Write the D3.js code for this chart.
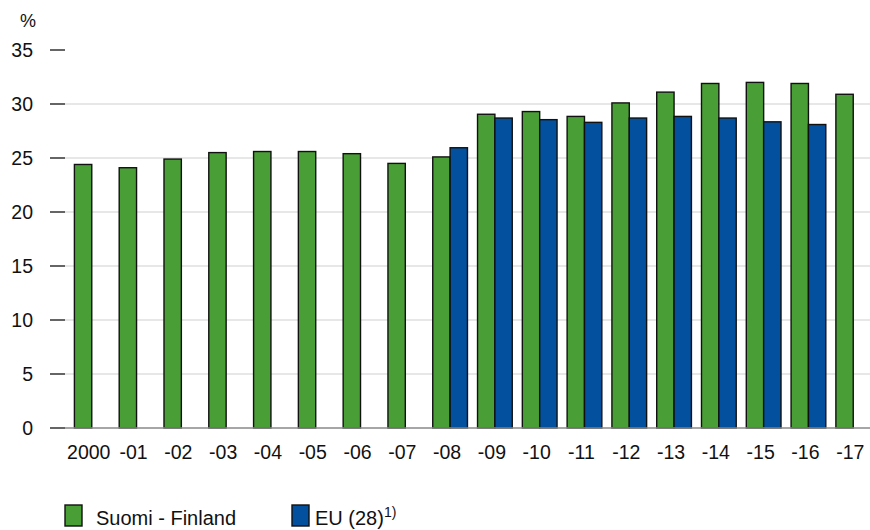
<!DOCTYPE html>
<html><head><meta charset="utf-8">
<script src="https://cdn.jsdelivr.net/npm/d3@7"></script>
<style>
body{margin:0;background:#fff;}
text{font-family:"Liberation Sans",Arial,Helvetica,sans-serif;fill:#111;}
</style></head>
<body><svg id="c" width="870" height="530"></svg>
<script>
const years = ["2000","-01","-02","-03","-04","-05","-06","-07","-08","-09","-10","-11","-12","-13","-14","-15","-16","-17"];
const finland = [24.4,24.1,24.9,25.5,25.6,25.6,25.4,24.5,25.1,29.05,29.3,28.85,30.1,31.1,31.9,32.0,31.9,30.9];
const eu = [null,null,null,null,null,null,null,null,25.95,28.7,28.55,28.3,28.7,28.85,28.7,28.35,28.1,null];
const yTicks = [0,5,10,15,20,25,30,35];
const seriesNames = ["Suomi - Finland","EU (28)"];
const colors = ["#4a9e36","#02509e"];

const svg = d3.select("#c");
const fs = "19.5px";
const y = d3.scaleLinear().domain([0,35]).range([428,50]);
const x = d3.scaleBand().domain(years).range([65,880]).paddingInner(0.225).paddingOuter(0.21);
const xs = d3.scaleBand().domain([0,1]).range([0,x.bandwidth()]);

// gridlines
svg.append("g").selectAll("line").data(yTicks.filter(t=>t>0 && t<35)).join("line")
  .attr("x1",65).attr("x2",870).attr("y1",d=>y(d)).attr("y2",d=>y(d))
  .attr("stroke","#cfcfcf").attr("stroke-width",1.2);

// y axis ticks & labels
const ya = svg.append("g");
ya.selectAll("line").data(yTicks).join("line")
  .attr("x1",50).attr("x2",65).attr("y1",d=>y(d)).attr("y2",d=>y(d))
  .attr("stroke","#111").attr("stroke-width",1.3);
ya.selectAll("text").data(yTicks).join("text")
  .attr("x",33).attr("y",d=>y(d)).attr("dy","0.36em").attr("text-anchor","end")
  .style("font-size",fs).text(d=>d);
svg.append("text").attr("x",20).attr("y",27).style("font-size","18px").text("%");

// bars
const series = [finland, eu];
series.forEach((vals,si)=>{
  svg.append("g").selectAll("rect").data(years.map((yr,i)=>({yr,v:vals[i]})).filter(d=>d.v!=null)).join("rect")
    .attr("x",d=>x(d.yr)+xs(si)).attr("width",xs.bandwidth())
    .attr("y",d=>y(d.v)).attr("height",d=>y(0)-y(d.v))
    .attr("fill",colors[si]).attr("stroke","#111").attr("stroke-width",1.4);
});

// baseline
svg.append("line").attr("x1",65).attr("x2",870).attr("y1",y(0)).attr("y2",y(0))
  .attr("stroke","#888").attr("stroke-width",1.5);

// x labels
svg.append("g").selectAll("text").data(years).join("text")
  .attr("x",d=>x(d)+x.bandwidth()/2-3).attr("y",459).attr("text-anchor","middle")
  .style("font-size",fs).text(d=>d);

// legend
const leg = [{x:65,tx:96},{x:292,tx:315}];
leg.forEach((l,i)=>{
  svg.append("rect").attr("x",l.x).attr("y",505).attr("width",17).attr("height",21)
    .attr("fill",colors[i]).attr("stroke","#111").attr("stroke-width",1.4);
  const t = svg.append("text").attr("x",l.tx).attr("y",525).style("font-size","20px").text(seriesNames[i]);
  if(i===1){ t.append("tspan").attr("dy",-8).style("font-size","14px").text("1)"); }
});
</script></body></html>
